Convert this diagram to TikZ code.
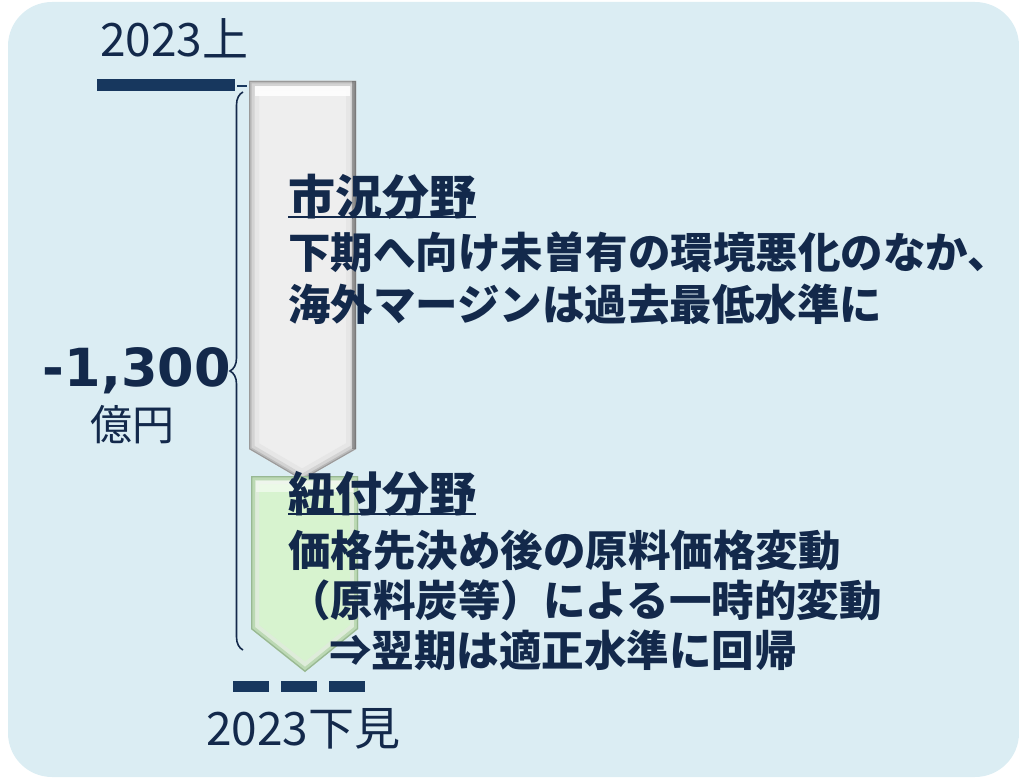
\documentclass[tikz,border=0pt]{standalone}
\usepackage{fontspec}
\setmainfont{Noto Sans CJK JP}
\newfontfamily\numfont{DejaVu Sans}
\usetikzlibrary{decorations.pathreplacing}
\definecolor{bgblue}{HTML}{DBEDF3}
\definecolor{navy}{HTML}{13294B}
\definecolor{barnavy}{HTML}{17375E}
\definecolor{grayc}{HTML}{EEEEEE}
\definecolor{graye}{HTML}{C8C8C8}
\definecolor{grayd}{HTML}{9A9A9A}
\definecolor{greenc}{HTML}{D7F3CF}
\definecolor{greene}{HTML}{BCD9B4}
\definecolor{greend}{HTML}{98B893}
\tikzset{
  bodytext/.style={inner sep=0pt, anchor=west, text=navy, text height=37.4pt, text depth=5.1pt,
    font=\bfseries\fontsize{42.5}{42.5}\selectfont},
  headtext/.style={inner sep=0pt, anchor=west, text=navy, text height=41.4pt, text depth=5.6pt,
    font=\bfseries\fontsize{47}{47}\selectfont},
  labeltext/.style={inner sep=0pt, text=navy, font=\fontsize{46}{46}\selectfont},
  bar/.style={barnavy, line width=12pt},
}
\begin{document}
\begin{tikzpicture}[x=1pt,y=-1pt]
\useasboundingbox (0,0) rectangle (1019,778);
\fill[bgblue, rounded corners=44pt] (8,2) rectangle (1019,777);

% gray arrow
\def\grayshape{(249,81) -- (356,81) -- (356,449) -- (302,480) -- (249,449) -- cycle}
\begin{scope}
  \clip \grayshape;
  \fill[grayc] \grayshape;
  \draw[line width=20pt, graye!45] \grayshape;
  \draw[line width=11pt, graye!80] \grayshape;
  \draw[line width=5pt, graye!70!grayd] \grayshape;
  \draw[line width=2pt, grayd] \grayshape;
  \fill[grayd!60!black, opacity=.5] (352,81) rectangle (356,449);
  \fill[white, opacity=.85] (255,86) rectangle (350,96);
\end{scope}

% green arrow
\def\greenshape{(251,476) -- (358,476) -- (358,629) -- (305,672) -- (251,629) -- cycle}
\begin{scope}
  \clip \greenshape;
  \fill[greenc] \greenshape;
  \draw[line width=16pt, greene!50] \greenshape;
  \draw[line width=8pt, greene] \greenshape;
  \draw[line width=2.5pt, greend] \greenshape;
  \fill[white, opacity=.5] (256,481) rectangle (353,492);
\end{scope}

% bars
\coordinate (b1) at (97,85);
\coordinate (b2) at (235,85);
\draw[bar] (b1) -- (b2);
\coordinate (t1) at (237,86);
\coordinate (t2) at (247,86);
\draw[barnavy, line width=2pt] (t1) -- (t2);
\coordinate (d1) at (233,686);
\coordinate (d2) at (366,686);
\draw[barnavy, line width=11pt, dash pattern=on 36pt off 12pt] (d1) -- (d2);

% brace
\coordinate (br1) at (243,650);
\coordinate (br2) at (243,92);
\draw[navy, line width=1.6pt, decorate, decoration={brace, amplitude=13pt}] (br1) -- (br2);

% labels
\node[labeltext, anchor=base west] (toplbl) at (100,57) {2023上};
\node[labeltext, anchor=base west] (botlbl) at (206,745) {2023下見};
\node[inner sep=0pt, anchor=base east, text=navy, font=\numfont\bfseries\fontsize{52.5}{52.5}\selectfont] (val) at (231,386) {-1,300};
\node[inner sep=0pt, text=navy, text height=37pt, text depth=5pt, font=\fontsize{42}{42}\selectfont] (unit) at (132,424) {億円};

% texts
\node[headtext] (h1) at (288,197) {市況分野};
\draw[navy, line width=2.5pt] ([yshift=-2pt]h1.base west) -- ([yshift=-2pt]h1.base east);
\node[bodytext] (l1) at (288,252) {下期へ向け未曽有の環境悪化のなか、};
\node[bodytext] (l2) at (288,304) {海外マージンは過去最低水準に};

\node[headtext] (h2) at (288,494) {紐付分野};
\draw[navy, line width=2.5pt] ([yshift=-2pt]h2.base west) -- ([yshift=-2pt]h2.base east);
\node[bodytext] (l3) at (288,550) {価格先決め後の原料価格変動};
\node[bodytext] (l4) at (288,600) {（原料炭等）による一時的変動};
\node[bodytext] (l5) at (329,650) {⇒翌期は適正水準に回帰};
\end{tikzpicture}
\end{document}
